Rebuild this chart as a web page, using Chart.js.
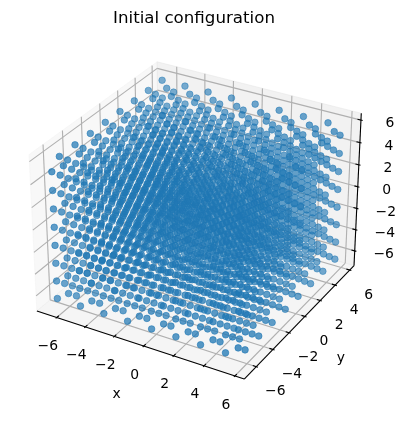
<!DOCTYPE html>
<html>
<head>
<meta charset="utf-8">
<title>Initial configuration</title>
<script src="https://cdn.jsdelivr.net/npm/chart.js@4"></script>
<style>
  html, body { margin: 0; padding: 0; background: #fff; }
  canvas { display: block; }
</style>
</head>
<body>
<canvas id="chart" width="404" height="423"></canvas>
<script>
// --- DATA ---
const chartTitle = "Initial configuration";
const axisTicks = [-6, -4, -2, 0, 2, 4, 6];
// lattice planes, same on all three axes.
// only sites with an even index sum are occupied (fcc)
const latticeCoords = [-6.52, -5.705, -4.89, -4.075, -3.26, -2.445, -1.63, -0.815,
                       0, 0.815, 1.63, 2.445, 3.26, 4.075, 4.89, 5.705];
const axisLimits = [-7.13, 6.32];
const paneLimits = [-7.41, 6.6];

// --- VIEW (elev 30, azim -60, box 4:4:3) ---
const boxSize = [1.1905, 1.1905, 0.8929];
const viewW = [0.433, -0.75, 0.5];
const viewU = [0.866, 0.5, 0];
const viewV = [-0.25, 0.433, 0.866];
const viewDist = 10;
const viewScale = 1915, viewCx = 198.5, viewCy = 212.5;

function dot(a, b) { return a[0]*b[0] + a[1]*b[1] + a[2]*b[2]; }

function project(x, y, z) {
    const span = axisLimits[1] - axisLimits[0];
    const mid = (axisLimits[0] + axisLimits[1]) / 2;
    const q = [(x - mid) / span * boxSize[0], (y - mid) / span * boxSize[1], (z - mid) / span * boxSize[2]];
    const d = viewDist - dot(q, viewW);
    return { x: viewCx + viewScale * dot(q, viewU) / d, y: viewCy - viewScale * dot(q, viewV) / d, depth: d };
}

// --- POINTS ---
const sites = [];
latticeCoords.forEach((x, i) => latticeCoords.forEach((y, j) => latticeCoords.forEach((z, k) => {
    if ((i + j + k) % 2 === 0) sites.push(project(x, y, z));
})));
sites.sort((a, b) => b.depth - a.depth); // far points first
const depths = sites.map(s => s.depth);
const dMin = Math.min(...depths), dMax = Math.max(...depths);
const siteAlpha = s => 0.85 - 0.35 * (s.depth - dMin) / (dMax - dMin);
const siteColors = sites.map(s => `rgba(31,119,180,${siteAlpha(s).toFixed(3)})`);

// --- AXES ---
const [lo, hi] = paneLimits;
const datasets = [];

function addPane(corners, color) {
    const pts = corners.concat([corners[0]]).map(c => project(...c));
    datasets.push({ data: pts, showLine: true, fill: 'shape', backgroundColor: color,
                    borderColor: color, borderWidth: 1, pointRadius: 0, clip: false });
}
function addLine(a, b, color, width) {
    datasets.push({ data: [project(...a), project(...b)], showLine: true, fill: false,
                    borderColor: color, borderWidth: width, pointRadius: 0, clip: false });
}

addPane([[lo,lo,lo],[lo,hi,lo],[lo,hi,hi],[lo,lo,hi]], 'rgba(242,242,242,0.5)');
addPane([[lo,hi,lo],[hi,hi,lo],[hi,hi,hi],[lo,hi,hi]], 'rgba(230,230,230,0.5)');
addPane([[lo,lo,lo],[hi,lo,lo],[hi,hi,lo],[lo,hi,lo]], 'rgba(236,236,236,0.5)');

const gridColor = '#b0b0b0', gridWidth = 1.1;
axisTicks.forEach(t => {
    addLine([t,lo,lo], [t,hi,lo], gridColor, gridWidth);
    addLine([t,hi,lo], [t,hi,hi], gridColor, gridWidth);
    addLine([lo,t,lo], [hi,t,lo], gridColor, gridWidth);
    addLine([lo,t,lo], [lo,t,hi], gridColor, gridWidth);
    addLine([lo,lo,t], [lo,hi,t], gridColor, gridWidth);
    addLine([lo,hi,t], [hi,hi,t], gridColor, gridWidth);
});

addLine([lo,lo,lo], [hi,lo,lo], '#000', 1.1);
addLine([hi,lo,lo], [hi,hi,lo], '#000', 1.1);
addLine([hi,hi,lo], [hi,hi,hi], '#000', 1.1);

const tickOut = 0.112, tickIn = 0.224;
axisTicks.forEach(t => {
    addLine([t,lo-tickOut,lo], [t,lo+tickIn,lo], '#000', 1.1);
    addLine([hi+tickOut,t,lo], [hi-tickIn,t,lo], '#000', 1.1);
    addLine([hi+tickOut,hi,t], [hi-tickIn,hi,t], '#000', 1.1);
});

datasets.push({ data: sites, pointRadius: 3.3, pointBorderWidth: 0.8,
                pointBackgroundColor: siteColors, pointBorderColor: siteColors,
                showLine: false, clip: false });

// Chart.js paints the first dataset last, so order by position in the list
datasets.forEach((d, i) => { d.order = datasets.length - i; });

// tick labels and axis names are placed next to the projected axis
const tickLabels = {
    id: 'tickLabels',
    afterDraw(chart) {
        const { ctx, scales } = chart;
        ctx.save();
        ctx.fillStyle = '#000';
        ctx.font = '13.9px "DejaVu Sans"';
        ctx.textAlign = 'center';
        ctx.textBaseline = 'middle';
        const put = (text, p, dx, dy) =>
            ctx.fillText(text, scales.x.getPixelForValue(p.x) + dx, scales.y.getPixelForValue(p.y) + dy);
        axisTicks.forEach(t => {
            const s = String(t).replace('-', '\u2212');
            put(s, project(t, lo, lo), -9, 29);
            put(s, project(hi, t, lo), 19, 25);
            put(s, project(hi, hi, t), 29, 3.5);
        });
        put('x', project(0, lo, lo), -27, 48);
        put('y', project(hi, 0, lo), 36, 42);
        ctx.restore();
    }
};

new Chart(document.getElementById('chart'), {
    type: 'scatter',
    data: { datasets },
    plugins: [tickLabels],
    options: {
        responsive: false,
        animation: false,
        layout: { autoPadding: false, padding: { right: 16 } },
        plugins: {
            legend: { display: false },
            tooltip: { enabled: false },
            title: {
                display: true, text: chartTitle, fullSize: false, color: '#000',
                font: { family: 'DejaVu Sans', size: 16.67, weight: 'normal' },
                padding: { top: 9, bottom: 0 }
            }
        },
        scales: {
            x: { display: false, min: 0, max: 388 },
            y: { display: false, reverse: true, min: 29, max: 423 }
        }
    }
});
</script>
</body>
</html>
